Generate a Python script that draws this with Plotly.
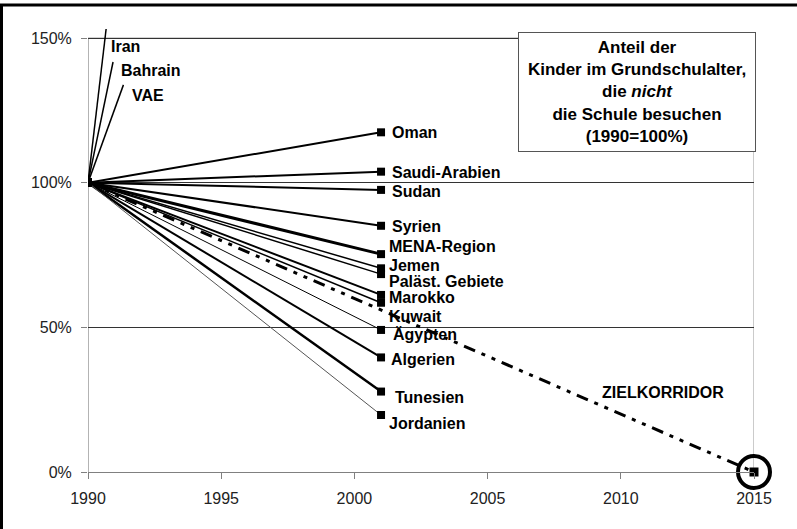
import plotly.graph_objects as go

# ---------------- data ----------------
base_year = 1990
obs_year = 2001
countries = ["Oman", "Saudi-Arabien", "Sudan", "Syrien", "MENA-Region", "Jemen",
             "Paläst. Gebiete", "Marokko", "Kuwait", "Ägypten", "Algerien",
             "Tunesien", "Jordanien"]
values_2001 = [117.4, 103.8, 97.5, 85.1, 75.3, 70.4, 68.4, 61.2, 58.5, 49.1, 39.6, 27.8, 19.7]

# countries whose value runs far off the scale: only a short rising segment is drawn
offscale_countries = ["Iran", "Bahrain", "VAE"]
offscale_end_year = [1990.68, 1990.94, 1991.33]
offscale_end_value = [153.1, 141.7, 133.8]

target_years = [1990, 2015]
target_values = [100, 0]
target_label = "ZIELKORRIDOR"
target_label_pos = (2011.6, 27.4)

x_ticks = [1990, 1995, 2000, 2005, 2010, 2015]
y_ticks = [0, 50, 100, 150]
y_ticklabels = ["0%", "50%", "100%", "150%"]

box_text = ("<b>Anteil der<br>Kinder im Grundschulalter,<br>die <i>nicht</i><br>"
            "die Schule besuchen<br>(1990=100%)</b>")

# ---------------- styles ----------------
FONT = "Liberation Sans, Arial, sans-serif"
W, H = 797, 529
L, R, T, B = 88, 43, 26, 57
PX_PER_PCT = (H - B - 38) / 150.0
Y_MAX = (H - B - T) / PX_PER_PCT

line_widths = {"Oman": 2, "Saudi-Arabien": 2, "Sudan": 2, "Syrien": 2, "MENA-Region": 3,
               "Jemen": 1.5, "Paläst. Gebiete": 1.5, "Marokko": 2, "Kuwait": 1.5,
               "Ägypten": 1, "Algerien": 2, "Tunesien": 2.5, "Jordanien": 1}
line_colors = {"Jordanien": "#555555"}
# label offsets in pixels (xshift, yshift)
label_shift = {"Oman": (9, 0), "Saudi-Arabien": (9, -1), "Sudan": (9, -2), "Syrien": (9, -1),
               "MENA-Region": (6, 8), "Jemen": (6, 3), "Paläst. Gebiete": (6, -7),
               "Marokko": (6, -3), "Kuwait": (6, -14), "Ägypten": (10, -5),
               "Algerien": (8, -2), "Tunesien": (12, -6), "Jordanien": (6, -8)}
offscale_shift = {"Iran": (3, -17), "Bahrain": (6, -8), "VAE": (7, -11)}

fig = go.Figure()

# off-scale countries
for name, ex, ey in zip(offscale_countries, offscale_end_year, offscale_end_value):
    fig.add_trace(go.Scatter(x=[base_year, ex], y=[100, ey], mode="lines",
                             line=dict(color="black", width=1.5), showlegend=False,
                             hoverinfo="skip"))
    dx, dy = offscale_shift[name]
    fig.add_annotation(x=ex, y=ey, text="<b>" + name + "</b>", showarrow=False,
                       xanchor="left", yanchor="middle", xshift=dx, yshift=dy,
                       font=dict(family=FONT, size=16, color="black"))

# target corridor
fig.add_trace(go.Scatter(x=target_years, y=target_values, mode="lines",
                         line=dict(color="black", width=3,
                                   dash="12px,7px,4px,7px,4px,7px"),
                         showlegend=False, hoverinfo="skip"))

# country lines
for name, v in zip(countries, values_2001):
    fig.add_trace(go.Scatter(x=[base_year, obs_year], y=[100, v], mode="lines+markers",
                             line=dict(color=line_colors.get(name, "black"),
                                       width=line_widths[name]),
                             marker=dict(symbol="square", size=8, color="black"),
                             showlegend=False, hoverinfo="skip"))
    dx, dy = label_shift[name]
    fig.add_annotation(x=obs_year, y=v, text="<b>" + name + "</b>", showarrow=False,
                       xanchor="left", yanchor="middle", xshift=dx, yshift=dy,
                       font=dict(family=FONT, size=16, color="black"))

# target end point with circle
fig.add_trace(go.Scatter(x=[target_years[-1]], y=[target_values[-1]], mode="markers",
                         marker=dict(symbol="square", size=9, color="black"),
                         cliponaxis=False, showlegend=False, hoverinfo="skip"))
fig.add_trace(go.Scatter(x=[target_years[-1]], y=[target_values[-1]], mode="markers",
                         marker=dict(symbol="circle-open", size=32, color="black",
                                     line=dict(width=4, color="black")),
                         cliponaxis=False, showlegend=False, hoverinfo="skip"))

fig.add_annotation(x=target_label_pos[0], y=target_label_pos[1],
                   text="<b>" + target_label + "</b>", showarrow=False,
                   font=dict(family=FONT, size=16, color="black"))

# gray plot-area border lines (top at 150%, right side), y axis line
fig.add_shape(type="line", xref="x", yref="y", x0=x_ticks[0], x1=x_ticks[-1], y0=150, y1=150,
              line=dict(color="#a8a8a8", width=1.2), layer="below")
fig.add_shape(type="line", xref="x", yref="y", x0=x_ticks[-1], x1=x_ticks[-1], y0=0, y1=150,
              line=dict(color="#a8a8a8", width=1.2), layer="below")
fig.add_shape(type="line", xref="x", yref="y", x0=x_ticks[0], x1=x_ticks[0], y0=0, y1=150,
              line=dict(color="#808080", width=1.2), layer="below")

# text box
fig.add_annotation(xref="x", yref="y", x=x_ticks[-1], y=152.1, xanchor="right", yanchor="top",
                   xshift=2, text=box_text, showarrow=False, align="center",
                   width=234, height=116, borderpad=1, borderwidth=1,
                   bordercolor="#555555", bgcolor="white",
                   font=dict(family=FONT, size=17, color="black"))

# outer frame (top and left edges only)
pw, ph = W - L - R, H - T - B


def px_x(px):
    return (px - L) / pw


def px_y(py):
    return (H - B - py) / ph


frame_path = "M {:.5f},{:.5f} L {:.5f},{:.5f} L {:.5f},{:.5f}".format(
    px_x(1.5), px_y(H + 10), px_x(1.5), px_y(5), px_x(W + 10), px_y(5))
fig.add_shape(type="path", xref="paper", yref="paper", path=frame_path,
              line=dict(color="black", width=3))

fig.update_layout(
    width=W, height=H,
    margin=dict(l=L, r=R, t=T, b=B),
    plot_bgcolor="white", paper_bgcolor="white",
    font=dict(family=FONT, size=16, color="#222"),
    xaxis=dict(range=[x_ticks[0], x_ticks[-1]], tickvals=x_ticks, showgrid=False,
               zeroline=False, showline=True, linecolor="#808080", linewidth=1.2,
               ticks="outside", ticklen=6, tickcolor="#808080", tickwidth=1.2,
               ticklabelstandoff=6, tickfont=dict(size=16, color="#222")),
    yaxis=dict(range=[0, Y_MAX], tickvals=y_ticks, ticktext=y_ticklabels, showgrid=True,
               gridcolor="#333333", gridwidth=1, zeroline=False, showline=False,
               ticks="outside", ticklen=6, tickcolor="#808080", tickwidth=1.2,
               ticklabelstandoff=6, tickfont=dict(size=16, color="#222")),
)

fig.write_html("out.html", config={"displayModeBar": False},
               post_script="document.body.style.margin='0';")
